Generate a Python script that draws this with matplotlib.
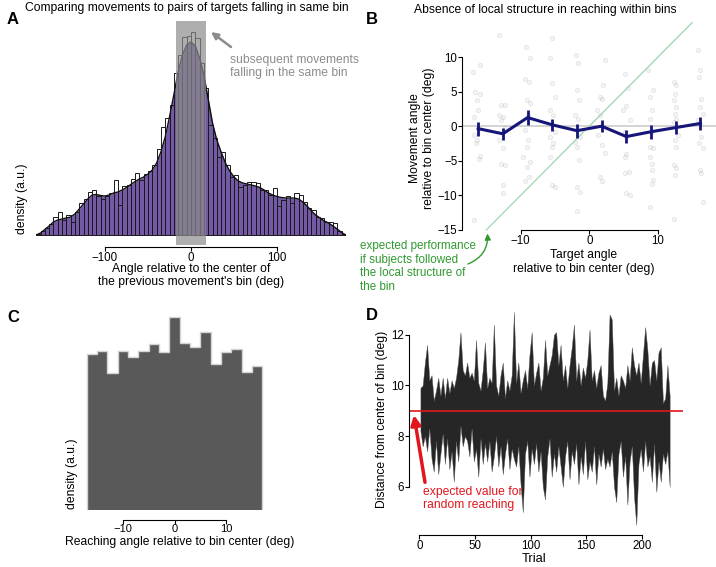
import matplotlib
matplotlib.use('Agg')
import matplotlib.pyplot as plt
import numpy as np

plt.rcParams['font.family'] = ['Liberation Sans', 'DejaVu Sans']
plt.rcParams['font.size'] = 8.7

# ---------------- data ----------------
# Panel A: histogram of angles (5 deg bins, -180..180) and density curve
a_bin_width = 5
a_hist = [1, 4, 7, 11, 18, 22.5, 15, 19.5, 13, 23,
          32, 36, 42.5, 44.5, 39, 35.5, 38.5, 42, 54.5, 29.5,
          48.5, 50, 56, 61.5, 55, 60.5, 64, 70, 86, 108,
          117, 130, 162.5, 180, 198.5, 199.5, 203.5, 197, 172, 147,
          110, 97, 78, 83, 70, 58, 60, 48, 50, 52.5,
          52.5, 51.5, 45, 45, 40, 46.7, 29, 35, 39, 31.7,
          42.3, 40, 33.3, 26.7, 25, 18.3, 16.7, 12.7, 13.3, 11.7,
          4.3, 0.7]
a_curve_x = list(range(-180, 181, 5))
a_curve_y = [0, 2, 5.5, 9, 13, 15, 16, 17, 18, 21,
             26, 31, 36, 40, 40.5, 39.5, 39, 40, 42, 43,
             45, 47.5, 50.5, 53.5, 56, 58, 61, 65, 72, 83,
             98, 118, 140, 163, 180, 190, 193, 189, 177, 160,
             136, 112, 95, 83, 72, 64, 58, 54, 52, 51,
             50, 49, 47.5, 45, 42, 40, 38.5, 37.5, 37, 37,
             37, 36, 33, 29, 24, 20, 17, 14, 12, 9,
             6, 2.5, 0]
a_same_bin = (-18, 18)
a_xticks = [-100, 0, 100]

# Panel B: mean movement angle per target sub-bin
b_target = [-16.2, -12.6, -9, -5.4, -1.8, 1.8, 5.4, 9, 12.6, 16.2]
b_mean = [-0.35, -1.1, 1.25, 0.2, -0.65, 0.0, -1.5, -0.8, -0.2, 0.4]
b_err = [1.0, 0.9, 1.1, 0.9, 1.0, 0.9, 0.9, 1.0, 0.9, 1.0]
b_pts_x = [-16.9, -16.0, -16.7, -15.9, -16.4, -16.2, -16.8, -16.8, -16.4, -16.5, -15.9, -16.1, -16.8,
           -13.1, -12.8, -12.3, -13.1, -12.6, -12.8, -12.3, -13.1, -12.6, -12.8, -12.3, -12.6, -12.6,
           -9.2, -8.7, -9.4, -8.8, -9.1, -8.7, -8.9, -9.4, -8.9, -9.1, -9.6, -8.7, -9.1, -8.8, -9.4,
           -5.4, -5.7, -5.5, -5.0, -5.7, -5.3, -5.0, -5.7, -5.3, -5.5, -5.8, -5.5, -5.0,
           -1.9, -1.6, -1.8, -1.5, -2.1, -1.6, -1.4, -2.1, -1.8, -1.5, -1.8, -1.4, -1.8,
           2.3, 2.0, 1.5, 1.8, 1.1, 1.6, 2.0, 1.3, 1.8, 2.3, 1.6, 1.8,
           5.2, 5.6, 5.3, 4.9, 5.9, 5.2, 5.4, 5.3, 5.2, 5.8, 5.2, 5.4, 5.9,
           8.6, 9.3, 8.9, 9.2, 8.9, 9.1, 8.9, 9.3, 8.8, 9.1, 9.2, 9.3, 9.2, 8.9,
           12.4, 12.7, 12.5, 12.3, 12.7, 12.5, 12.7, 12.3, 13.0, 12.5, 12.7, 12.3, 12.7, 12.5, 12.3,
           15.9, 16.1, 16.0, 16.3, 16.1, 16.6, 15.9, 16.3, 16.0, 16.6, 16.1, 16.3, 16.6]
b_pts_y = [7.9, 8.8, 5.0, 4.7, 3.8, 2.4, 1.3, -1.3, -2.0, -2.5, -4.3, -4.7, -13.6,
           13.2, 3.0, 3.0, 1.6, 1.4, 0.9, -0.3, -2.0, -3.2, -5.4, -5.6, -8.5, -9.7,
           11.5, 9.8, 6.9, 6.4, 3.8, 3.3, 1.6, -0.6, -2.0, -3.0, -4.4, -5.2, -5.9, -7.3, -8.0,
           12.7, 9.8, 6.2, 4.2, 2.3, 1.6, -0.8, -1.5, -2.5, -3.0, -4.4, -8.5, -8.8,
           10.3, 9.1, 5.2, 3.8, 1.6, 1.1, -1.5, -2.3, -3.0, -4.9, -8.8, -9.5, -12.2,
           9.6, 5.9, 4.2, 4.0, 2.3, 1.6, 0.1, -1.3, -2.7, -3.9, -7.3, -8.0,
           7.6, 5.5, 2.9, 2.3, 0.9, -0.8, -1.5, -4.0, -4.4, -6.6, -6.8, -9.7, -9.9,
           8.1, 5.2, 4.2, 2.3, 1.1, -0.8, -3.0, -3.2, -4.4, -5.4, -6.4, -7.8, -8.3, -11.7,
           6.4, 5.9, 4.7, 3.8, 2.8, 1.8, 1.1, 0.6, -1.3, -2.0, -3.0, -5.6, -6.1, -7.1, -13.4,
           11.0, 8.1, 7.1, 4.0, 2.8, 1.8, 0.9, -1.5, -2.5, -3.2, -6.4, -6.8, -11.0]
b_identity = [-15, 15]
b_xticks = [-10, 0, 10]
b_yticks = [-15, -10, -5, 0, 5, 10]

# Panel C: reaching angle histogram within bin (2 deg bins, -17..17)
c_edges = list(range(-17, 18, 2))
c_hist = [155.7, 159.3, 137.3, 159.3, 153.3, 159.3, 165.7, 158.3, 192.7,
          166.7, 163.3, 178.3, 146, 158.3, 160.7, 138.3, 144.3]
c_xticks = [-10, 0, 10]

# Panel D: distance from bin center per trial (band lower / upper), every 2nd trial
d_upper = [9.9, 10.0, 10.9, 11.6, 10.2, 10.4, 9.4, 9.8, 10.3, 9.6,
           10.3, 9.5, 10.3, 9.7, 10.2, 9.9, 10.3, 11.0, 12.1, 10.6,
           10.4, 10.9, 10.3, 10.5, 10.2, 11.8, 10.1, 9.8, 10.6, 11.7,
           9.9, 10.3, 10.1, 12.4, 10.0, 9.6, 10.4, 10.9, 9.5, 10.2,
           9.8, 10.4, 12.9, 10.1, 10.9, 9.7, 10.2, 10.6, 9.9, 11.2,
           12.1, 10.0, 10.5, 10.9, 9.8, 10.3, 11.8, 10.4, 10.8, 11.2,
           12.0, 12.1, 10.8, 11.6, 10.2, 10.8, 9.9, 10.8, 11.5, 12.4,
           10.2, 10.9, 10.0, 10.7, 10.3, 11.0, 12.2, 10.2, 10.6, 9.9,
           10.5, 10.8, 9.6, 9.4, 10.1, 12.8, 12.6, 9.8, 10.3, 9.6,
           10.4, 10.2, 9.9, 10.8, 10.2, 11.5, 10.8, 10.4, 10.9, 10.1,
           11.2, 12.3, 11.4, 10.0, 10.9, 11.0, 10.2, 11.3, 11.5, 9.3,
           9.5, 10.8, 9.6]
d_lower = [8.2, 7.6, 8.0, 7.4, 8.3, 7.1, 6.6, 7.8, 6.5, 7.3,
           8.1, 6.9, 7.9, 6.7, 7.4, 6.2, 7.8, 7.0, 8.4, 7.6,
           8.0, 7.8, 7.2, 8.3, 7.0, 7.5, 6.4, 7.9, 6.9, 7.7,
           7.0, 7.8, 6.6, 7.2, 8.0, 6.8, 7.6, 6.5, 7.3, 7.9,
           6.7, 7.5, 7.1, 6.8, 7.6, 6.1, 5.0, 7.3, 7.8, 6.4,
           7.5, 6.9, 7.7, 6.6, 7.4, 6.0, 5.5, 7.2, 7.9, 6.4,
           7.3, 6.6, 7.6, 6.8, 6.0, 7.2, 7.8, 6.3, 7.4, 6.9,
           7.7, 6.1, 7.2, 6.5, 7.8, 6.3, 7.0, 6.6, 7.6, 6.1,
           7.3, 6.8, 7.5, 6.7, 7.1, 6.8, 7.4, 6.0, 5.4, 7.3,
           7.8, 6.4, 7.2, 5.3, 7.0, 7.6, 5.6, 4.5, 6.9, 7.5,
           6.6, 7.8, 6.8, 7.2, 6.2, 7.7, 5.8, 7.0, 6.2, 7.3,
           6.9, 7.4, 6.0]
d_trials = list(range(1, 226, 2))
d_expected = 9
d_xticks = [0, 50, 100, 150, 200]
d_yticks = [6, 8, 10, 12]

# ---------------- figure ----------------
W, H = 716, 567
fig = plt.figure(figsize=(W / 100, H / 100), dpi=100)
FS = 8.7
TFS = 8.3


def box(l, t, r, b):
    return [l / W, 1 - b / H, (r - l) / W, (b - t) / H]


def fx(x):
    return x / W


def fy(y):
    return 1 - y / H


def style_ticks(ax):
    ax.tick_params(direction='out', length=2.8, width=0.8, pad=0.8, labelsize=TFS)


# ---- Panel A ----
axA = fig.add_axes(box(36.2, 21, 345.8, 245))
purple = '#7359a6'
axA.fill_between(a_curve_x, 0, a_curve_y, color=purple, lw=0, zorder=1)
a_centers = np.arange(-180 + a_bin_width / 2, 180, a_bin_width)
axA.bar(a_centers, a_hist, width=a_bin_width, fill=False, edgecolor='#1a1a1a',
        lw=0.7, zorder=2)
axA.plot(a_curve_x, a_curve_y, color='#111111', lw=1.0, zorder=3)
axA.axvspan(a_same_bin[0], a_same_bin[1], color='#8c8c8c', alpha=0.7, lw=0, zorder=4)
axA.set_xlim(-180, 180)
axA.set_ylim(-10, 214)
for s in ['left', 'top', 'right']:
    axA.spines[s].set_visible(False)
axA.spines['bottom'].set_position(('outward', 1.5))
axA.spines['bottom'].set_bounds(-100, 100)
axA.set_xticks(a_xticks)
axA.set_yticks([])
style_ticks(axA)
axA.patch.set_alpha(0)

fig.text(fx(187), fy(8.5), 'Comparing movements to pairs of targets falling in same bin',
         ha='center', va='center', fontsize=FS)
fig.text(fx(7), fy(20), 'A', ha='left', va='center', fontsize=12, fontweight='bold')
fig.text(fx(22), fy(199), 'density (a.u.)', rotation=90, ha='center', va='center', fontsize=FS)
fig.text(fx(191), fy(275.5), "Angle relative to the center of\nthe previous movement's bin (deg)",
         ha='center', va='center', fontsize=FS, linespacing=1.15)
fig.text(fx(230), fy(66.5), 'subsequent movements\nfalling in the same bin',
         ha='left', va='center', fontsize=FS, color='#8c8c8c', linespacing=1.15)
fig.add_artist(matplotlib.patches.FancyArrowPatch(
    (fx(231), fy(47)), (fx(211), fy(32)), transform=fig.transFigure,
    arrowstyle='-|>', mutation_scale=10, lw=1.8, color='#8c8c8c', shrinkA=0, shrinkB=0))

# ---- Panel B ----
axB = fig.add_axes(box(462.4, 19.1, 716.2, 229.85))
axB.set_xlim(-18.5, 18.5)
axB.set_ylim(-15, 15.5)
axB.axhline(0, color='#cccccc', lw=1.2, zorder=1)
axB.scatter(b_pts_x, b_pts_y, s=10, facecolor=(0.55, 0.55, 0.55, 0.10),
            edgecolor=(0.5, 0.5, 0.5, 0.18), lw=0.5, zorder=2, clip_on=False)
axB.plot(b_identity, b_identity, color='#a5d8b5', lw=1.0, zorder=3, clip_on=False)
axB.errorbar(b_target, b_mean, yerr=b_err, color='#15157a', lw=2.2, elinewidth=2.0,
             capsize=0, zorder=4)
for s in ['top', 'right']:
    axB.spines[s].set_visible(False)
axB.spines['left'].set_bounds(-15, 10)
axB.spines['bottom'].set_bounds(-10, 10)
axB.set_xticks(b_xticks)
axB.set_yticks(b_yticks)
style_ticks(axB)
axB.patch.set_alpha(0)

fig.text(fx(545.7), fy(10), 'Absence of local structure in reaching within bins',
         ha='center', va='center', fontsize=FS)
fig.text(fx(366), fy(19), 'B', ha='left', va='center', fontsize=12, fontweight='bold')
fig.text(fx(422), fy(138), 'Movement angle\nrelative to bin center (deg)', rotation=90,
         ha='center', va='center', fontsize=FS, linespacing=1.15)
fig.text(fx(584), fy(262), 'Target angle\nrelative to bin center (deg)',
         ha='center', va='center', fontsize=FS, linespacing=1.15)
green = '#2f9a2f'
fig.text(fx(360), fy(266.5), 'expected performance\nif subjects followed\nthe local structure of\nthe bin',
         ha='left', va='center', fontsize=8.4, color=green, linespacing=1.2)
fig.add_artist(matplotlib.patches.FancyArrowPatch(
    (fx(468), fy(264)), (fx(487.5), fy(233.5)), transform=fig.transFigure,
    connectionstyle='arc3,rad=0.35', arrowstyle='-|>', mutation_scale=9, lw=1.0, color=green,
    shrinkA=0, shrinkB=0))

# ---- Panel C ----
axC = fig.add_axes(box(81.5, 310, 267.5, 510))
axC.stairs(c_hist, c_edges, fill=True, color='#595959', lw=0, zorder=1)
axC.stairs(c_hist, c_edges, baseline=0, color='#d4d4d4', lw=1.0, zorder=2)
axC.set_xlim(-18, 18)
axC.set_ylim(0, 200)
for s in ['left', 'top', 'right']:
    axC.spines[s].set_visible(False)
axC.spines['bottom'].set_position(('outward', 7.2))
axC.spines['bottom'].set_bounds(-10, 10)
axC.set_xticks(c_xticks)
axC.set_yticks([])
style_ticks(axC)
axC.tick_params(pad=0.3, labelsize=8)
axC.patch.set_alpha(0)

fig.text(fx(7), fy(317), 'C', ha='left', va='center', fontsize=12, fontweight='bold')
fig.text(fx(72.5), fy(474), 'density (a.u.)', rotation=90, ha='center', va='center', fontsize=FS)
fig.text(fx(180), fy(541.5), 'Reaching angle relative to bin center (deg)',
         ha='center', va='center', fontsize=FS)

# ---- Panel D ----
axD = fig.add_axes(box(409.3, 306.8, 683, 535))
axD.set_xlim(-9, 237)
axD.set_ylim(4.1, 13.1)
axD.fill_between(d_trials, d_lower, d_upper, color='#262626', lw=0.3, edgecolor='#555555', zorder=1)
axD.axhline(d_expected, color='#e3161d', lw=1.2, zorder=2)
for s in ['top', 'right']:
    axD.spines[s].set_visible(False)
axD.spines['left'].set_bounds(6, 12)
axD.spines['bottom'].set_bounds(0, 200)
axD.set_xticks(d_xticks)
axD.set_yticks(d_yticks)
style_ticks(axD)
axD.patch.set_alpha(0)
axD.annotate('', xy=(-4.8, 8.83), xytext=(5.1, 6.18),
             arrowprops=dict(arrowstyle='-|>', lw=2.5, color='#e3161d', mutation_scale=14,
                             shrinkA=0, shrinkB=0),
             annotation_clip=False)

fig.text(fx(366), fy(316), 'D', ha='left', va='center', fontsize=12, fontweight='bold')
fig.text(fx(382), fy(419), 'Distance from center of bin (deg)', rotation=90,
         ha='center', va='center', fontsize=FS)
fig.text(fx(534), fy(558.5), 'Trial', ha='center', va='center', fontsize=9.3)
fig.text(fx(423.3), fy(498.5), 'expected value for\nrandom reaching', ha='left', va='center',
         fontsize=FS, color='#e3161d', linespacing=1.15)

fig.savefig('out.png', dpi=100)
